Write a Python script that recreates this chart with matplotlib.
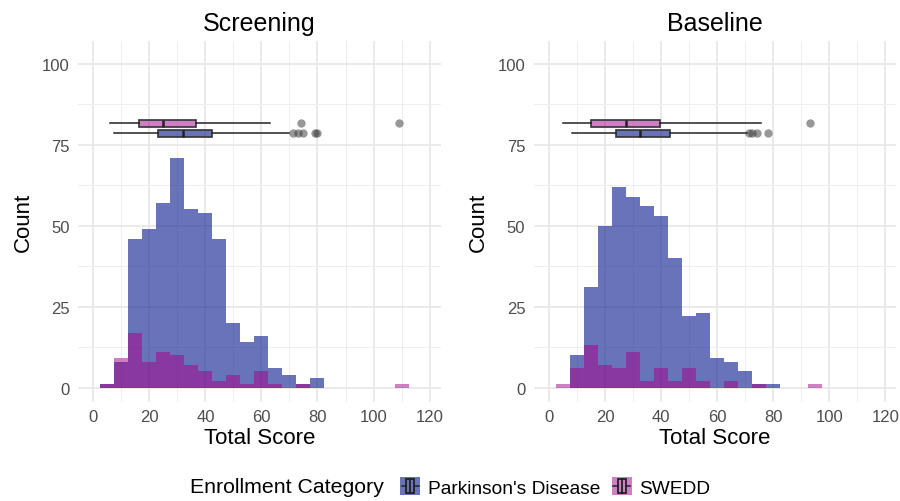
import matplotlib as mpl
mpl.use('Agg')
import matplotlib.pyplot as plt
import numpy as np
from matplotlib.patches import Rectangle
from matplotlib.lines import Line2D
from matplotlib.legend_handler import HandlerBase
from matplotlib.ticker import MultipleLocator

plt.rcParams['font.family'] = ['Liberation Sans', 'DejaVu Sans']

# histogram bins (width 5), centres
bin_centers = [5, 10, 15, 20, 25, 30, 35, 40, 45, 50, 55, 60, 65, 70, 75, 80,
               85, 90, 95, 100, 105, 110]

# Screening
scr_pd = [1, 8, 46, 49, 57, 71, 55, 54, 46, 20, 14, 16, 6, 4, 1, 3,
          0, 0, 0, 0, 0, 0]
scr_swedd = [1, 9, 17, 8, 11, 10, 7, 5, 2, 4, 1, 5, 1, 0, 1, 0,
             0, 0, 0, 0, 0, 1]

# Baseline
base_pd = [0, 10, 31, 50, 62, 59, 56, 53, 40, 22, 23, 9, 8, 5, 1, 1,
           0, 0, 0, 0, 0, 0]
base_swedd = [1, 6, 13, 7, 6, 11, 2, 6, 2, 6, 2, 0, 2, 0, 1, 0,
              0, 0, 1, 0, 0, 0]

# boxplot summaries: whislo, q1, med, q3, whishi, outliers
scr_pd_box = [7.2, 23.0, 32.0, 42.3, 70.0, [71.3, 73.0, 75.0, 79.0, 80.0]]
scr_swedd_box = [6.0, 16.4, 24.9, 36.5, 63.1, [74.0, 109.2]]
base_pd_box = [8.2, 23.8, 32.5, 43.0, 70.6, [71.5, 72.4, 74.2, 78.0]]
base_swedd_box = [4.9, 15.0, 27.4, 39.7, 75.7, [93.2]]

titles = ['Screening', 'Baseline']
groups = ["Parkinson's Disease", 'SWEDD']

PD_COL = '#192894'
SW_COL = '#a5008a'
PD_ALPHA = 0.65
SW_ALPHA = 0.5


def box_stats(b):
    return dict(whislo=b[0], q1=b[1], med=b[2], q3=b[3], whishi=b[4], fliers=b[5])


def draw_panel(ax, title, pd_counts, sw_counts, pd_box, sw_box):
    ax.bar(bin_centers, pd_counts, width=5, color=PD_COL, alpha=PD_ALPHA,
           linewidth=0, zorder=2)
    ax.bar(bin_centers, sw_counts, width=5, color=SW_COL, alpha=SW_ALPHA,
           linewidth=0, zorder=3)

    for b, pos, col, a in [(pd_box, 78.6, PD_COL, PD_ALPHA),
                           (sw_box, 81.7, SW_COL, SW_ALPHA)]:
        ax.bxp([box_stats(b)], positions=[pos], widths=2.2, vert=False,
               patch_artist=True, showcaps=False, manage_ticks=False,
               boxprops=dict(facecolor=mpl.colors.to_rgba(col, a),
                             edgecolor='#333333', linewidth=1.2),
               medianprops=dict(color='#222222', linewidth=1.8),
               whiskerprops=dict(color='#222222', linewidth=1.1),
               flierprops=dict(marker='o', markersize=6,
                               markerfacecolor='#333333',
                               markeredgecolor='none', alpha=0.5),
               zorder=4)

    ax.set_xlim(-5.5, 124)
    ax.set_ylim(-4.5, 107)
    ax.xaxis.set_major_locator(MultipleLocator(20))
    ax.xaxis.set_minor_locator(MultipleLocator(10))
    ax.yaxis.set_major_locator(MultipleLocator(25))
    ax.yaxis.set_minor_locator(MultipleLocator(12.5))
    ax.set_yticks([0, 25, 50, 75, 100])
    ax.grid(which='major', color='#e6e6e6', linewidth=1.2, zorder=0)
    ax.grid(which='minor', color='#eeeeee', linewidth=0.7, zorder=0)
    ax.set_axisbelow(True)
    for s in ax.spines.values():
        s.set_visible(False)
    ax.tick_params(which='both', length=0, labelsize=12, labelcolor='#4d4d4d')
    ax.tick_params(axis='y', pad=6)
    ax.tick_params(axis='x', pad=5)
    ax.set_title(title, fontsize=18, pad=8)
    ax.set_xlabel('Total Score', fontsize=16, labelpad=2)
    ax.set_ylabel('Count', fontsize=16, labelpad=6)


class BoxKey(HandlerBase):
    def create_artists(self, legend, orig_handle, xdescent, ydescent,
                       width, height, fontsize, trans):
        x0, y0 = -xdescent, -ydescent
        fc = orig_handle.get_facecolor()
        bg = Rectangle((x0, y0), width, height, facecolor=fc,
                       edgecolor='none', transform=trans)
        box = Rectangle((x0 + 0.3 * width, y0 + 0.1 * height), 0.4 * width,
                        0.8 * height, facecolor='none', edgecolor='#222222',
                        linewidth=1.3, transform=trans)
        med = Line2D([x0 + 0.5 * width] * 2, [y0 + 0.1 * height, y0 + 0.9 * height],
                     color='#222222', linewidth=1.3, transform=trans)
        wl = Line2D([x0 + 0.08 * width, x0 + 0.3 * width], [y0 + 0.5 * height] * 2,
                    color='#222222', linewidth=1.1, transform=trans)
        wr = Line2D([x0 + 0.7 * width, x0 + 0.92 * width], [y0 + 0.5 * height] * 2,
                    color='#222222', linewidth=1.1, transform=trans)
        return [bg, box, med, wl, wr]


fig = plt.figure(figsize=(9, 5.02), dpi=100)
ax1 = fig.add_axes([0.0867, 0.197, 0.403, 0.719])
ax2 = fig.add_axes([0.593, 0.197, 0.403, 0.719])

draw_panel(ax1, titles[0], scr_pd, scr_swedd, scr_pd_box, scr_swedd_box)
draw_panel(ax2, titles[1], base_pd, base_swedd, base_pd_box, base_swedd_box)

handles = [Rectangle((0, 0), 1, 1, facecolor=mpl.colors.to_rgba(PD_COL, PD_ALPHA)),
           Rectangle((0, 0), 1, 1, facecolor=mpl.colors.to_rgba(SW_COL, SW_ALPHA))]
fig.text(190 / 900, 0.028, 'Enrollment Category', fontsize=15.3, va='center',
         ha='left')
fig.legend(handles, groups, handler_map={Rectangle: BoxKey()}, ncol=2,
           loc='center left', bbox_to_anchor=(400 / 900, 0.028), frameon=False,
           fontsize=13.8, handlelength=1.05, handleheight=1.05,
           handletextpad=0.4, columnspacing=0.6, borderpad=0, borderaxespad=0)

fig.savefig('out.png', dpi=100)
